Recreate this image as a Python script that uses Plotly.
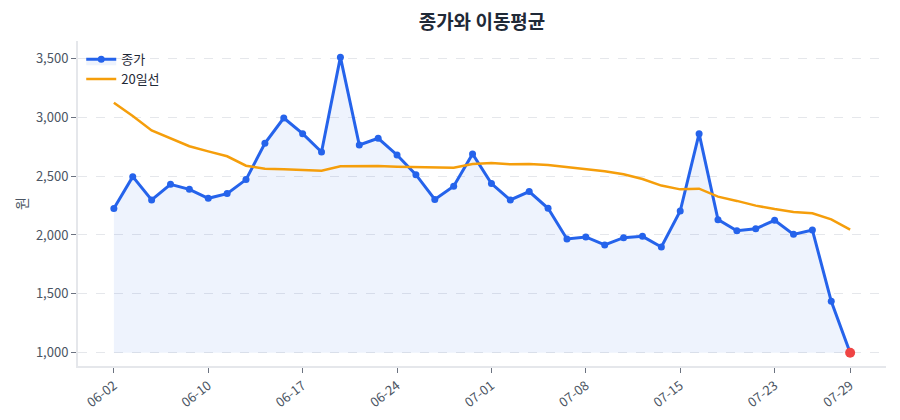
import plotly.graph_objects as go

# trading days (MM-DD)
dates = [
    "06-02", "06-03", "06-04", "06-05", "06-09", "06-10", "06-11", "06-12",
    "06-13", "06-16", "06-17", "06-18", "06-19", "06-20", "06-23", "06-24",
    "06-25", "06-26", "06-27", "06-30", "07-01", "07-02", "07-03", "07-04",
    "07-07", "07-08", "07-09", "07-10", "07-11", "07-14", "07-15", "07-16",
    "07-18", "07-21", "07-22", "07-23", "07-24", "07-25", "07-28", "07-29",
]

close = [
    2225, 2495, 2297, 2430, 2387, 2311, 2351, 2470, 2778, 2993,
    2860, 2704, 3510, 2764, 2821, 2679, 2512, 2302, 2413, 2688,
    2436, 2297, 2368, 2226, 1966, 1983, 1915, 1977, 1988, 1898,
    2203, 2860, 2130, 2036, 2053, 2124, 2005, 2042, 1436, 1000,
]

ma20 = [
    3123, 3010, 2888, 2821, 2753, 2710, 2668, 2588, 2563, 2557,
    2554, 2546, 2583, 2586, 2586, 2580, 2577, 2571, 2571, 2603,
    2611, 2600, 2603, 2594, 2577, 2560, 2540, 2515, 2475, 2419,
    2387, 2393, 2325, 2289, 2249, 2220, 2195, 2184, 2133, 2045,
]

tick_dates = dates[::5] + [dates[-1]]

BLUE = "#2563eb"
ORANGE = "#f59e0b"
RED = "#ef4444"

base = min(close)

fig = go.Figure()

# invisible baseline so the area stops at the lowest close
fig.add_trace(go.Scatter(
    x=dates, y=[base] * len(dates),
    mode="lines", line=dict(width=0),
    showlegend=False, hoverinfo="skip",
))

fig.add_trace(go.Scatter(
    name="종가",
    x=dates, y=close,
    mode="lines+markers",
    line=dict(color=BLUE, width=3),
    marker=dict(color=BLUE, size=7),
    fill="tonexty",
    fillcolor="rgba(37, 99, 235, 0.08)",
))

fig.add_trace(go.Scatter(
    name="20일선",
    x=dates, y=ma20,
    mode="lines",
    line=dict(color=ORANGE, width=2.5),
))

# last close highlighted
fig.add_trace(go.Scatter(
    x=[dates[-1]], y=[close[-1]],
    mode="markers",
    marker=dict(color=RED, size=10),
    showlegend=False,
))

fig.update_layout(
    width=900,
    height=420,
    margin=dict(l=70, r=22, t=33, b=62),
    plot_bgcolor="white",
    paper_bgcolor="white",
    font=dict(family="Noto Sans CJK KR, Noto Sans, sans-serif", size=12, color="#4b5563"),
    title=dict(
        text="<b>종가와 이동평균</b>",
        xref="paper", x=0.5, xanchor="center", y=0.967, yanchor="middle",
        font=dict(size=19, color="#1f2937"),
        automargin=False,
    ),
    legend=dict(
        x=0.004, y=0.99, xanchor="left", yanchor="top",
        traceorder="normal",
        bgcolor="rgba(0,0,0,0)",
        font=dict(size=13, color="#1f2937"),
    ),
    xaxis=dict(
        type="category",
        range=[-1.9, 40.9],
        tickvals=tick_dates,
        ticktext=tick_dates,
        tickangle=-38,
        ticks="outside",
        ticklen=5,
        tickcolor="#6b7280",
        showgrid=False,
        showline=True,
        linecolor="#e5e7eb",
        linewidth=2,
        zeroline=False,
        automargin=False,
        tickfont=dict(size=13, color="#4b5563"),
    ),
    yaxis=dict(
        title=dict(text="원", standoff=5, font=dict(size=14, color="#4b5563")),
        range=[887, 3647],
        tickvals=[1000, 1500, 2000, 2500, 3000, 3500],
        tickformat=",",
        ticks="outside",
        ticklen=5,
        tickcolor="#6b7280",
        showgrid=True,
        gridcolor="#e5e7eb",
        griddash="dash",
        showline=True,
        linecolor="#e5e7eb",
        linewidth=2,
        zeroline=False,
        automargin=False,
        tickfont=dict(size=13, color="#4b5563"),
    ),
)

fig.write_html("out.html")
